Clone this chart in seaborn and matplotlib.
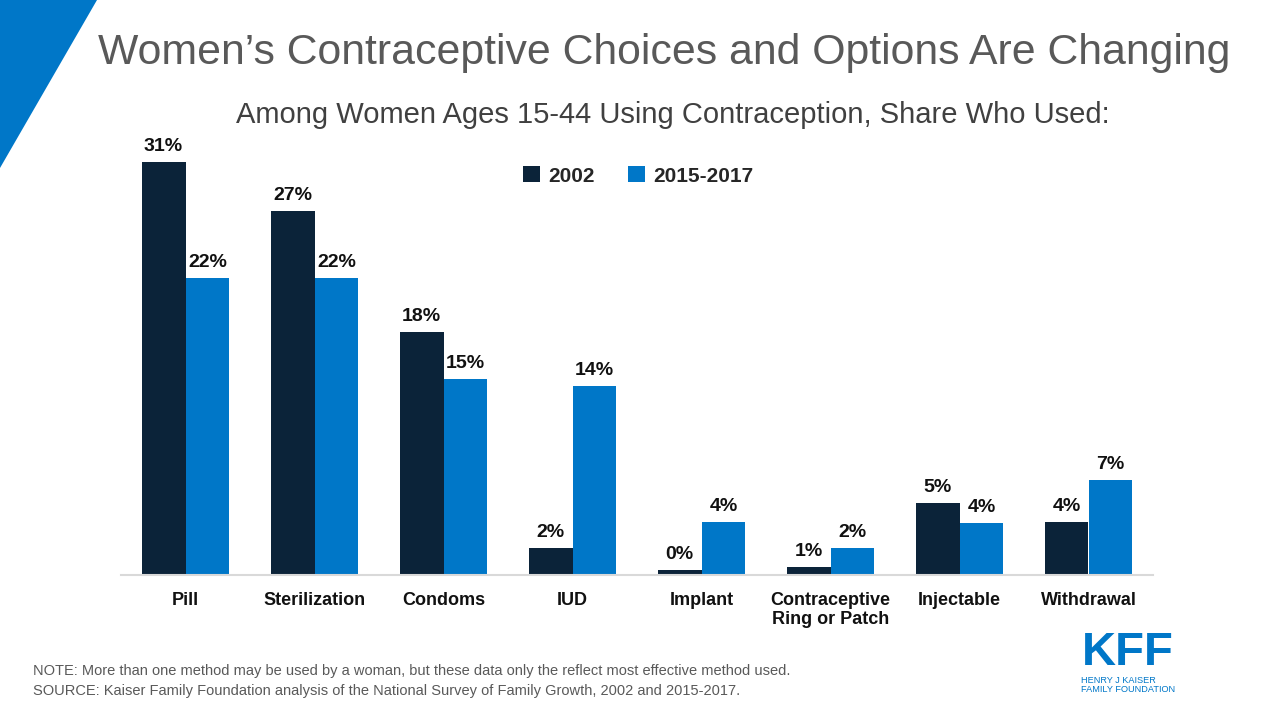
import matplotlib
matplotlib.use("Agg")
import matplotlib.pyplot as plt
from matplotlib.patches import Polygon
import pandas as pd
import seaborn as sns

# data
methods = ["Pill", "Sterilization", "Condoms", "IUD", "Implant",
           "Contraceptive\nRing or Patch", "Injectable", "Withdrawal"]
share_2002 = [31.0, 27.3, 18.2, 2.0, 0.4, 0.6, 5.4, 4.0]
share_2015 = [22.3, 22.3, 14.7, 14.2, 4.0, 2.0, 3.9, 7.1]
periods = ["2002", "2015-2017"]

navy = "#0B2339"
blue = "#0077C8"
grey = "#595959"

df = pd.DataFrame({
    "method": methods * 2,
    "share": share_2002 + share_2015,
    "period": [periods[0]] * len(methods) + [periods[1]] * len(methods),
})

sns.set_style("white")
plt.rcParams["font.family"] = ["Liberation Sans", "DejaVu Sans"]

fig = plt.figure(figsize=(12.8, 7.2), dpi=100)
ax = fig.add_axes([121 / 1280, 145 / 720, 1032 / 1280, 440 / 720])

sns.barplot(data=df, x="method", y="share", hue="period", order=methods,
            hue_order=periods, palette=[navy, blue], width=0.68,
            saturation=1, linewidth=0, ax=ax, legend=True)

for cont in ax.containers:
    vals = [b.get_height() for b in cont]
    ax.bar_label(cont, labels=[f"{v:.0f}%" for v in vals], padding=5,
                 fontsize=14, fontweight="bold", color="#111111")

ax.set_xlim(-0.5, len(methods) - 0.5)
ax.set_ylim(0, 33)
ax.set_xlabel("")
ax.set_ylabel("")
ax.set_yticks([])
ax.tick_params(axis="x", length=0, pad=12, labelsize=13, labelcolor="#111111")
for lab in ax.get_xticklabels():
    lab.set_fontweight("bold")
    lab.set_linespacing(1.15)
    lab.set_verticalalignment("top")
for s in ["top", "right", "left"]:
    ax.spines[s].set_visible(False)
ax.spines["bottom"].set_color("#d9d9d9")
ax.spines["bottom"].set_linewidth(1.5)

handles, labels = ax.get_legend_handles_labels()
ax.legend(handles, labels, loc="center", bbox_to_anchor=(638 / 1280, 1 - 176 / 720),
          bbox_transform=fig.transFigure, ncol=2, frameon=False,
          handlelength=0.8, handleheight=0.8, handletextpad=0.4,
          columnspacing=1.6, prop={"weight": "bold", "size": 15})

# corner triangle
fig.patches.append(Polygon([(0, 1), (97 / 1280, 1), (0, 1 - 168 / 720)],
                           closed=True, transform=fig.transFigure,
                           facecolor=blue, edgecolor="none"))

fig.text(664 / 1280, 1 - 53 / 720, "Women\u2019s Contraceptive Choices and Options Are Changing",
         ha="center", va="center", fontsize=30.8, color=grey)
fig.text(673 / 1280, 1 - 115 / 720,
         "Among Women Ages 15-44 Using Contraception, Share Who Used:",
         ha="center", va="center", fontsize=21, color="#404040")

fig.text(33 / 1280, 1 - 671 / 720,
         "NOTE: More than one method may be used by a woman, but these data only the reflect most effective method used.",
         ha="left", va="center", fontsize=10.5, color=grey)
fig.text(33 / 1280, 1 - 691 / 720,
         "SOURCE: Kaiser Family Foundation analysis of the National Survey of Family Growth, 2002 and 2015-2017.",
         ha="left", va="center", fontsize=10.5, color=grey)

# logo
fig.text(1128 / 1280, 1 - 675 / 720, "KFF", ha="center", va="bottom",
         fontsize=34, fontweight="bold", color=blue)
fig.text(1081 / 1280, 1 - 685 / 720, "HENRY J KAISER\nFAMILY FOUNDATION",
         ha="left", va="center", fontsize=6.6, color=blue, linespacing=1.1)

fig.savefig("out.png", dpi=100)
